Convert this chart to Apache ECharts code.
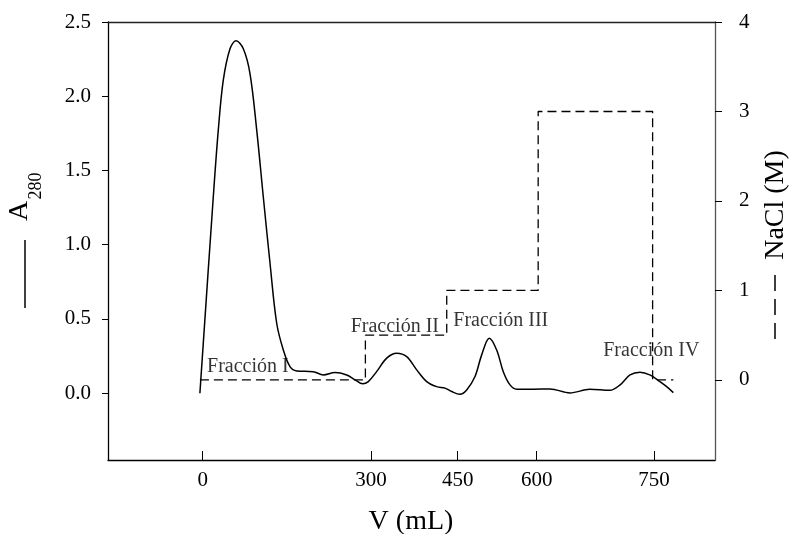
<!DOCTYPE html>
<html>
<head>
<meta charset="utf-8">
<script src="https://cdn.jsdelivr.net/npm/echarts@6/dist/echarts.min.js"></script>
<style>html,body{margin:0;padding:0;background:#fff}#c{width:794px;height:534px}</style>
</head>
<body>
<div id="c"></div>
<script>
// x positions are in the chart's (non-uniform) drawing units of the V axis
const xTickPos = [0, 300, 454.5, 595.4, 804.5];
const xTickLabels = ['0', '300', '450', '600', '750'];
const yLeftTicks = [0, 0.5, 1.0, 1.5, 2.0, 2.5];
const yRightTicks = [0, 1, 2, 3, 4];

// A280 curve
const a280X = [-5, 18.9, 27.8, 36.7, 48.7, 59.4, 72.4, 84.3, 96.3, 108, 120, 131.9, 143.7, 155.6, 167.6, 197, 215, 235.8, 256.7, 271.5, 285.2, 295.2, 310, 328, 345.8, 363.6, 381.5, 399.3, 417, 432, 443.8, 458.6, 470.6, 485.4, 497.3, 510.9, 524, 535.8, 547.8, 559.7, 589.3, 619, 654.7, 690, 726, 744, 761.7, 779.5, 797, 815, 827, 838.9];
const a280Y = [0.0, 1.323, 1.772, 2.108, 2.32, 2.373, 2.32, 2.153, 1.772, 1.323, 0.875, 0.471, 0.291, 0.179, 0.15, 0.145, 0.123, 0.139, 0.123, 0.09, 0.063, 0.078, 0.145, 0.236, 0.269, 0.246, 0.157, 0.078, 0.044, 0.034, 0.011, -0.007, 0.022, 0.112, 0.258, 0.37, 0.291, 0.145, 0.056, 0.027, 0.027, 0.029, 0.002, 0.026, 0.019, 0.056, 0.123, 0.141, 0.123, 0.078, 0.044, 0.004];

// NaCl step gradient
const naclX = [-5, 290, 290, 435, 435, 598, 598, 802, 802, 839];
const naclY = [0, 0, 0.5, 0.5, 1, 1, 3, 3, 0, 0];

// Fraction labels
const fracNames = ['Fracción I', 'Fracción II', 'Fracción III', 'Fracción IV'];
const fracX = [7.7, 263.8, 446.7, 714];
const fracY = [0.178, 0.446, 0.487, 0.289];

const FONT = "'Liberation Serif', 'Times New Roman', serif";
const chart = echarts.init(document.getElementById('c'), null, {renderer: 'canvas'});

const zip = (xs, ys) => xs.map((x, i) => [x, ys[i]]);

chart.setOption({
  animation: false,
  backgroundColor: '#fff',
  grid: {left: 108, right: 79, top: 22, bottom: 74, containLabel: false},
  xAxis: [{
    type: 'value', min: -168.8, max: 913.2, position: 'bottom',
    axisLine: {show: true, onZero: false, lineStyle: {color: '#000', width: 1.3}},
    axisTick: {show: true, inside: true, length: 9, customValues: xTickPos, lineStyle: {color: '#000', width: 1}},
    axisLabel: {show: true, customValues: xTickPos, margin: 10, fontFamily: FONT, fontSize: 21, color: '#000',
      formatter: v => { const i = xTickPos.findIndex(p => Math.abs(p - v) < 0.01); return i >= 0 ? xTickLabels[i] : ''; }},
    splitLine: {show: false}
  }, {
    type: 'value', min: -168.8, max: 913.2, position: 'top',
    axisLine: {show: true, onZero: false, lineStyle: {color: '#222', width: 1.3}},
    axisTick: {show: false}, axisLabel: {show: false}, splitLine: {show: false}
  }],
  yAxis: [{
    type: 'value', min: -0.45, max: 2.5, position: 'left',
    axisLine: {show: true, onZero: false, lineStyle: {color: '#000', width: 1.3}},
    axisTick: {show: true, inside: false, length: 6, customValues: yLeftTicks, lineStyle: {color: '#000', width: 1}},
    axisLabel: {show: true, customValues: yLeftTicks, margin: 17, fontFamily: FONT, fontSize: 21, color: '#000',
      formatter: v => v.toFixed(1)},
    splitLine: {show: false}
  }, {
    type: 'value', min: -0.895, max: 4, position: 'right',
    axisLine: {show: true, onZero: false, lineStyle: {color: '#555', width: 1.3}},
    axisTick: {show: true, inside: false, length: 7, customValues: yRightTicks, lineStyle: {color: '#000', width: 1}},
    axisLabel: {show: true, customValues: yRightTicks, margin: 24, fontFamily: FONT, fontSize: 21, color: '#000',
      formatter: v => String(v)},
    splitLine: {show: false}
  }],
  series: [{
    name: 'A280', type: 'line', xAxisIndex: 0, yAxisIndex: 0,
    data: zip(a280X, a280Y), smooth: 0.35, symbol: 'none',
    lineStyle: {color: '#000', width: 1.5}
  }, {
    name: 'NaCl', type: 'line', xAxisIndex: 0, yAxisIndex: 1,
    data: zip(naclX, naclY), symbol: 'none',
    lineStyle: {color: '#000', width: 1.3, type: [9, 5]}
  }, {
    name: 'labels', type: 'scatter', xAxisIndex: 0, yAxisIndex: 0,
    symbolSize: 0,
    data: fracNames.map((n, i) => ({name: n, value: [fracX[i], fracY[i]]})),
    label: {show: true, position: 'right', distance: 0, formatter: p => p.name,
      fontFamily: FONT, fontSize: 20, color: '#000'}
  }],
  graphic: [
    {type: 'text', x: 20, y: 211, rotation: Math.PI / 2,
      style: {text: 'A', font: "28px 'Liberation Serif', serif", fill: '#000', align: 'center', verticalAlign: 'middle'}},
    {type: 'text', x: 36, y: 186, rotation: Math.PI / 2,
      style: {text: '280', font: "18px 'Liberation Serif', serif", fill: '#000', align: 'center', verticalAlign: 'middle'}},
    {type: 'line', shape: {x1: 25, y1: 240, x2: 25, y2: 308}, style: {stroke: '#000', lineWidth: 1.5}},
    {type: 'text', x: 776, y: 205, rotation: Math.PI / 2,
      style: {text: 'NaCl (M)', font: "28px 'Liberation Serif', serif", fill: '#000', align: 'center', verticalAlign: 'middle'}},
    {type: 'line', shape: {x1: 775, y1: 275, x2: 775, y2: 343}, style: {stroke: '#000', lineWidth: 1.5, lineDash: [16, 8]}},
    {type: 'text', x: 411, y: 522,
      style: {text: 'V (mL)', font: "28px 'Liberation Serif', serif", fill: '#000', align: 'center', verticalAlign: 'middle'}}
  ]
});
</script>
</body>
</html>
